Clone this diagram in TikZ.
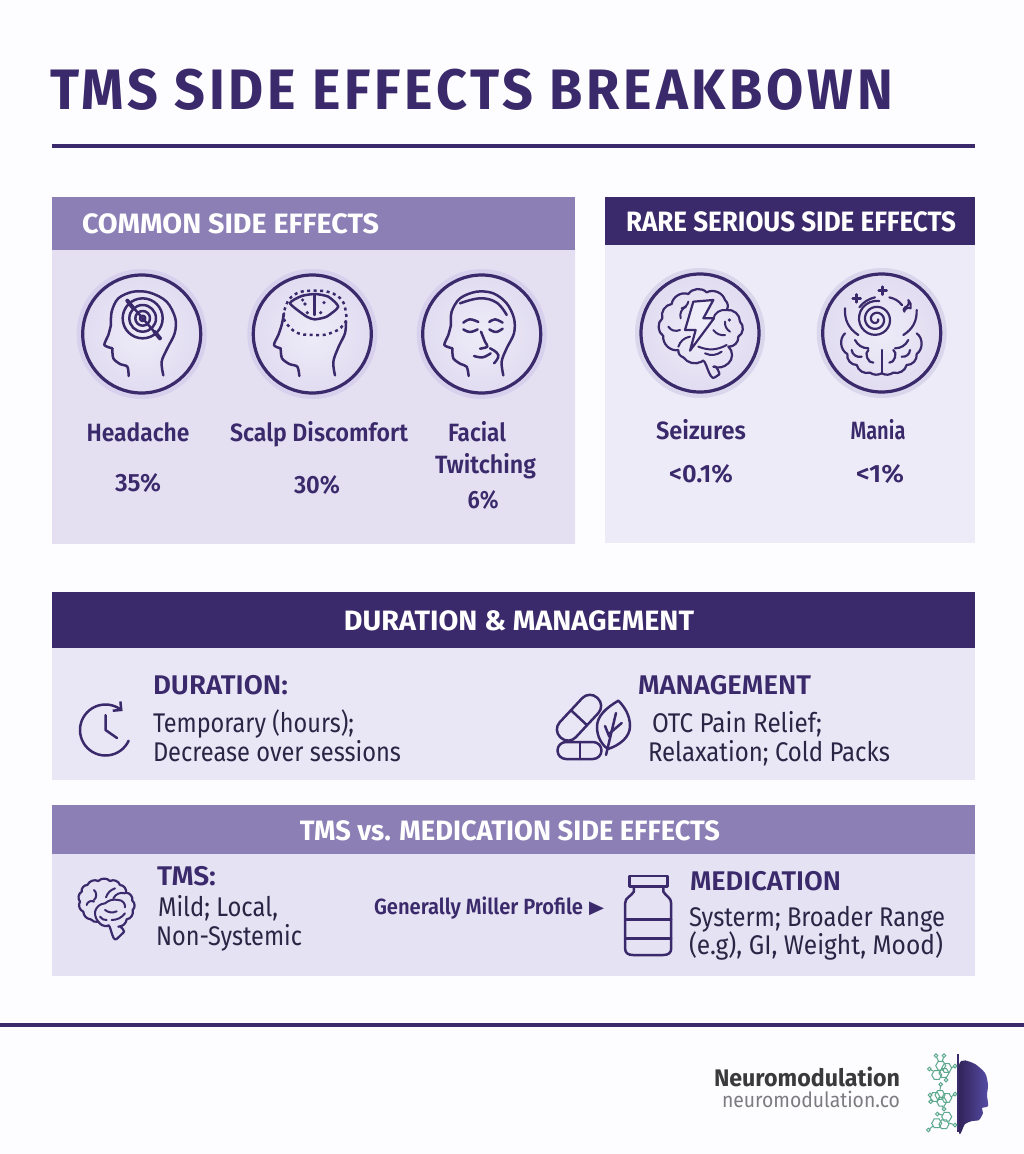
\documentclass[tikz,border=0pt]{standalone}
\usepackage{fontspec}
\usetikzlibrary{arrows.meta}
\setmainfont{Fira Sans}
\newfontfamily\symf{DejaVu Sans}
\newfontfamily\semi{Fira Sans SemiBold}
\newfontfamily\titlef[LetterSpace=7]{Fira Sans}
\definecolor{pagec}{HTML}{FDFCFE}
\definecolor{ink}{HTML}{3B2A6B}
\definecolor{mid}{HTML}{8B7FB6}
\definecolor{panA}{HTML}{E4E0F2}
\definecolor{panAm}{HTML}{E9E6F5}
\definecolor{panB}{HTML}{EDEBF7}
\definecolor{panC}{HTML}{E9E6F5}
\definecolor{panD}{HTML}{E5E2F3}
\definecolor{haloA}{HTML}{D7D1ED}
\definecolor{haloB}{HTML}{DAD7ED}
\definecolor{discIn}{HTML}{EEECF8}
\definecolor{discOut}{HTML}{E1DCF1}
\definecolor{bodyc}{HTML}{2B2545}
\definecolor{molc}{HTML}{5BA88C}
\definecolor{footd}{HTML}{3A3A3C}
\definecolor{footl}{HTML}{7C7C80}
\newcommand\fw[3]{\resizebox{#1pt}{\height}{\fontsize{#2}{#2}\selectfont #3}}
\tikzset{
 txt/.style={inner sep=0pt,outer sep=0pt,anchor=base west},
 ctxt/.style={inner sep=0pt,outer sep=0pt,anchor=base},
 lab/.style={ctxt,text=ink,font=\semi},
 hd/.style={txt,text=ink,font=\semi},
 bod/.style={txt,text=bodyc},
 whead/.style={ctxt,text=white,font=\bfseries},
 ic/.style={draw=ink,line width=2.5pt,line cap=round,line join=round,fill=none},
 icthin/.style={draw=ink,line width=2pt,line cap=round,line join=round,fill=none},
 ringc/.style={draw=ink,line width=3.2pt},
 mol/.style={draw=molc,line width=1pt,fill=none},
}
\newcommand\badge[3]{\fill[fill=#3] (#1,#2) circle[radius=65]; \shade[inner color=discIn,outer color=discOut] (#1,#2) circle[radius=59]; \draw[ringc] (#1,#2) circle[radius=59];}
\newcommand\hexa[3]{\draw[mol] (#1,#2) +(0:#3) -- +(60:#3) -- +(120:#3) -- +(180:#3) -- +(240:#3) -- +(300:#3) -- cycle;}
\newcommand\atom[2]{\draw[mol,fill=white] (#1,#2) circle[radius=1.8];}
\begin{document}
\begin{tikzpicture}[x=1pt,y=-1pt]
\useasboundingbox (0,0) rectangle (1024,1154);
\fill[pagec] (0,0) rectangle (1024,1154);
% title
\node[txt,text=ink,font=\bfseries] (title) at (50,109) {\resizebox{843pt}{\height}{\fontsize{57}{57}\titlef\bfseries TMS SIDE EFFECTS BREAKBOWN}};
\draw[ink,line width=3.2pt] (52,146) -- (975,146);
% panels
\shade[left color=panA,middle color=panAm,right color=panA] (52,250) rectangle (575,543);
\fill[mid] (52,197) rectangle (575,250);
\fill[panB] (605,245) rectangle (975,543);
\fill[ink] (605,197) rectangle (975,245);
\fill[panC] (52,648) rectangle (975,780);
\fill[ink] (52,592) rectangle (975,648);
\fill[panD] (52,854) rectangle (975,976);
\fill[mid] (52,805) rectangle (975,854);
% headers
\node[txt,text=white,font=\bfseries] (h1) at (82,233) {\fw{297}{28}{COMMON SIDE EFFECTS}};
\node[txt,text=white,font=\bfseries] (h2) at (626,231) {\fw{330}{28}{RARE SERIOUS SIDE EFFECTS}};
\node[whead] (h3) at (519,630) {\fw{350}{28}{DURATION \& MANAGEMENT}};
\node[whead] (h4) at (510,840) {\fw{420}{28}{TMS vs. MEDICATION SIDE EFFECTS}};
% badges
\badge{141.7}{334}{haloA}\badge{312.3}{334}{haloA}\badge{481.7}{334}{haloA}\badge{700}{333}{haloB}\badge{881.7}{333}{haloB}
% icon 1
\begin{scope}[x=.33333pt,y=-.33333pt,shift={(50pt,-250pt)}]
\draw[ic] plot[smooth,tension=.55] coordinates {(340,376)(335,335)(352,295)(374,250)(376,205)(350,155)(300,128)(250,125)(205,145)(185,185)(183,225)};
\draw[ic] plot[smooth,tension=.4] coordinates {(183,225)(175,255)(163,285)(187,295)};
\draw[ic] plot[smooth,tension=.5] coordinates {(187,295)(190,325)(210,342)(232,350)(236,378)};
\draw[ic] (278,205) ellipse[x radius=60,y radius=60];
\draw[ic] (278,205) ellipse[x radius=40,y radius=40];
\draw[ic] (278,205) ellipse[x radius=22,y radius=22];
\draw[ic] (278,205) ellipse[x radius=8,y radius=8];
\draw[ic] (232,152) -- (330,265);
\draw[ic,line width=4pt] (232,152) -- (248,172);
\draw[ic,line width=4pt] (314,246) -- (330,265);
\end{scope}
% icon 2
\begin{scope}[x=.33333pt,y=-.33333pt,shift={(50pt,-250pt)}]
\draw[ic] plot[smooth,tension=.55] coordinates {(855,376)(850,335)(866,290)(885,250)(888,215)};
\draw[ic] plot[smooth,tension=.5] coordinates {(702,190)(695,225)(685,255)(672,285)(692,295)};
\draw[ic] plot[smooth,tension=.5] coordinates {(692,295)(696,325)(718,342)(742,350)(748,378)};
\draw[ic,line cap=butt,dash pattern=on 3pt off 3.5pt] plot[smooth,tension=.8] coordinates {(700,200)(725,140)(795,122)(865,140)(888,190)(880,225)(840,250)(790,255)(735,245)(700,205)};
\draw[ic] plot[smooth cycle,tension=.35] coordinates {(720,160)(755,138)(795,132)(835,140)(865,170)(830,200)(795,208)(770,200)};
\draw[ic] (793,135) -- (793,195);
\foreach \a/\b in {758/150,765/162,822/158,772/188,812/188}{\fill[ink] (\a,\b) circle[radius=1.8pt];}
\end{scope}
% icon 3
\begin{scope}[x=.33333pt,y=-.33333pt,shift={(50pt,-250pt)}]
\draw[ic] plot[smooth,tension=.55] coordinates {(1360,376)(1355,335)(1370,295)(1392,250)(1392,205)(1370,160)(1330,130)(1280,125)(1230,145)(1205,185)(1203,225)};
\draw[ic] plot[smooth,tension=.4] coordinates {(1203,225)(1195,255)(1183,285)(1207,295)};
\draw[ic] plot[smooth,tension=.5] coordinates {(1207,295)(1210,325)(1232,342)(1250,350)(1256,378)};
\draw[ic] plot[smooth,tension=.7] coordinates {(1230,160)(1290,145)(1340,158)(1370,195)};
\draw[ic] plot[smooth,tension=.7] coordinates {(1240,218)(1260,208)(1285,216)};
\draw[ic] plot[smooth,tension=.7] coordinates {(1240,238)(1260,246)(1283,238)};
\draw[ic] plot[smooth,tension=.7] coordinates {(1318,216)(1335,208)(1358,218)};
\draw[ic] plot[smooth,tension=.7] coordinates {(1318,238)(1338,246)(1358,236)};
\draw[ic] plot[smooth,tension=.6] coordinates {(1293,245)(1305,275)(1312,290)(1290,296)};
\draw[ic] plot[smooth,tension=.7] coordinates {(1272,318)(1298,322)(1322,310)};
\draw[ic] plot[smooth,tension=.8] coordinates {(1320,295)(1345,315)(1332,340)};
\end{scope}
% icon 4 brain + bolt
\begin{scope}[x=.33333pt,y=-.33333pt,shift={(610pt,-250pt)}]
\draw[ic,line width=2.2pt] (205,300) to[bend left=55] (160,258) to[bend left=55] (157,205) to[bend left=50] (185,162) to[bend left=50] (235,132) to[bend left=50] (290,127) to[bend left=50] (345,150) to[bend left=40] (350,180) to[bend left=50] (390,215) to[bend left=55] (385,260) to[bend left=50] (355,290) to[bend left=50] (355,340) to[bend left=30] (310,350) to[out=70,in=0] (325,375) to (315,382) to[out=220,in=60] (275,335) to[bend left=40] (220,322) to[bend left=40] (205,300);
\draw[icthin] (215,175) to[bend right=30] (235,155);
\draw[icthin] (212,205) to[bend left=40] (228,170);
\draw[icthin] (175,230) to[bend right=40] (210,240);
\draw[icthin] (205,290) to[bend left=30] (240,260);
\draw[icthin] (310,205) to[bend left=40] (348,180);
\draw[icthin] (310,240) to[bend right=30] (345,255);
\draw[icthin] (265,290) to[bend right=25] (350,285);
\draw[icthin] (285,310) to[bend right=30] (335,305);
\draw[icthin] (345,215) to[bend right=30] (360,245);
\fill[ink] (358,210) circle[radius=1.8pt];
\draw[ic,line width=2.2pt,fill=discIn] (250,155) -- (310,150) -- (280,205) -- (312,205) -- (240,302) -- (257,240) -- (225,240) -- cycle;
\end{scope}
% icon 5 mania
\begin{scope}[x=.33333pt,y=-.33333pt,shift={(610pt,-250pt)}]
\draw[ic,line width=2.2pt] plot[smooth,tension=.7,domain=0:1000,samples=70] ({798+(6+.05*\x)*cos(\x)},{208+(6+.05*\x)*sin(\x)});
\draw[icthin,line width=2.2pt] (705,175) to[bend right=30] (745,255);
\draw[icthin,line width=2.2pt] (920,180) to[bend left=30] (880,255);
\draw[icthin,line width=2.2pt] (748,172) to[bend left=18] (795,142);
\draw[icthin,line width=2.2pt] (838,142) to[bend left=18] (876,165);
\draw[ic] (728,145) -- (752,145) (740,133) -- (740,157);
\draw[ic] (806,122) -- (830,122) (818,110) -- (818,134);
\draw[icthin] (883,185) to[bend left=60] (902,175) to[bend right=30] (895,150) to[bend left=50] (885,172) to[bend right=60] (883,185);
\draw[ic,line width=2.2pt] (815,370) to[bend left=30] (780,368) to[bend left=45] (740,345) to[bend left=50] (712,312) to[bend left=55] (705,250);
\draw[ic,line width=2.2pt] (815,370) to[bend right=30] (850,368) to[bend right=45] (890,345) to[bend right=50] (920,312) to[bend right=55] (920,250);
\draw[ic,line width=2.2pt] (815,300) -- (815,368);
\draw[icthin,line width=2.2pt] (775,300) to[bend right=80] (790,338);
\draw[icthin,line width=2.2pt] (850,300) to[bend left=80] (838,338);
\draw[icthin,line width=2.2pt] (735,270) to[bend right=30] (775,295);
\draw[icthin,line width=2.2pt] (895,270) to[bend left=30] (855,295);
\draw[icthin,line width=2.2pt] (725,300) to[bend right=50] (755,320);
\draw[icthin,line width=2.2pt] (900,300) to[bend left=50] (875,320);
\end{scope}
% labels
\node[lab] (l1) at (138,441) {\fw{103}{25}{Headache}};
\node[lab] (p1) at (138,491) {\fw{46}{25}{35\%}};
\node[lab] (l2) at (319,441) {\fw{178}{25}{Scalp Discomfort}};
\node[lab] (p2) at (317,493) {\fw{46}{25}{30\%}};
\node[lab] (l3a) at (477,441) {\fw{58}{25}{Facial}};
\node[lab] (l3b) at (485.5,473) {\fw{101}{25}{Twitching}};
\node[lab] (p3) at (483,508) {\fw{31}{25}{6\%}};
\node[lab] (l4) at (701,439) {\fw{90}{25}{Seizures}};
\node[lab] (p4) at (701,482) {\fw{64}{25}{<0.1\%}};
\node[lab] (l5) at (878,439) {\fw{55}{25}{Mania}};
\node[lab] (p5) at (880,482) {\fw{48}{25}{<1\%}};
% duration
\node[hd] (d1) at (153,694) {\fw{135}{27}{DURATION:}};
\node[bod] (d2) at (153,732) {\fw{201}{27}{Temporary (hours);}};
\node[bod] (d3) at (153,761) {\fw{248}{27}{Decrease over sessions}};
\node[hd] (m1) at (638,694) {\fw{173}{27}{MANAGEMENT}};
\node[bod] (m2) at (652,732) {\fw{170}{27}{OTC Pain Relief;}};
\node[bod] (m3) at (648,761) {\fw{242}{27}{Relaxation; Cold Packs}};
% clock
\draw[ic,-{Straight Barb[length=6pt,width=12pt]}] plot[smooth,domain=25:312,samples=40] ({105.5+25.5*cos(\x)},{730+25.5*sin(\x)});
\draw[ic] (105.5,715) -- (105.5,730) -- (117,738);
% pills and leaf
\begin{scope}[shift={(579,717.7)},rotate=47]
\draw[ic,rounded corners=10.5pt] (-27,-11) rectangle (27,11);
\draw[ic] (0,-11) -- (0,11);
\end{scope}
\draw[ic,rounded corners=8.5pt] (557.5,742) rectangle (601.5,759);
\draw[ic] (580,742) -- (580,759);
\draw[ic] (618.3,700.7) .. controls (606,708) and (597,716) .. (597,727) .. controls (597,737) and (602,745) .. (608,749) .. controls (620,745) and (630,737) .. (630,726) .. controls (630,715) and (624,706) .. (618.3,700.7) -- cycle;
\draw[ic] (606,755) -- (616,713);
\draw[ic] (610,733) -- (621.7,723);
\draw[ic] (609.3,736.7) -- (605,726);
% TMS row
\node[hd] (t1) at (157,885) {\fw{59}{27}{TMS:}};
\node[bod] (t2) at (158,916) {\fw{120}{27}{Mild; Local,}};
\node[bod] (t3) at (156,945) {\fw{146}{27}{Non-Systemic}};
\node[txt,text=ink,font=\semi] (gen) at (374,914) {\fw{209}{22}{Generally Miller Profile}};
\node[txt,text=ink] (tri) at (589,913) {\fw{15}{18}{\symf ▶}};
\node[hd] (md1) at (690,890) {\fw{151}{27}{MEDICATION}};
\node[bod] (md2) at (689,926) {\fw{256}{27}{Systerm; Broader Range}};
\node[bod] (md3) at (689,954) {\fw{254}{27}{(e.g), GI, Weight, Mood)}};
% small brain
\begin{scope}[x=.33333pt,y=-.33333pt,shift={(70pt,-870pt)}]
\draw[ic,line width=2.2pt] (62,148) to[bend left=40] (40,125) to[bend left=50] (30,95) to[bend left=50] (35,65) to[bend left=50] (52,45) to[bend left=45] (85,33) to[bend left=45] (120,33) to[bend left=50] (150,45) to[bend left=50] (168,68) to[bend left=50] (187,92) to[bend left=50] (188,120) to[bend left=50] (170,148) to[bend left=40] (145,170) to[out=60,in=0] (160,188) to (140,207) to[out=220,in=60] (112,168) to[bend left=30] (85,155) to[bend left=30] (62,148);
\draw[icthin] (75,125) to[bend left=35] (105,100) to[bend left=25] (145,90) to[bend left=50] (165,112);
\draw[icthin] (75,125) to[bend right=20] (85,155);
\draw[icthin] (50,105) to[bend left=60] (72,95);
\draw[icthin] (72,90) to[bend right=50] (72,60);
\draw[icthin] (108,82) to[bend left=25] (135,55);
\draw[icthin] (130,85) to[bend left=40] (165,70);
\draw[icthin] (105,120) to[bend right=30] (140,124);
\draw[icthin] (125,150) to[bend right=25] (165,130);
\draw[icthin] (90,140) to[bend right=30] (110,150);
\end{scope}
% bottle
\begin{scope}[x=.41494pt,y=-.33333pt,shift={(50pt,-860pt)}]
\draw[ic] (1396,48) rectangle (1488,80);
\draw[ic] (1407,80) -- (1407,95) .. controls (1400,110) and (1386,112) .. (1386,130) -- (1386,265) .. controls (1386,278) and (1392,285) .. (1405,285) -- (1478,285) .. controls (1491,285) and (1497,278) .. (1497,265) -- (1497,130) .. controls (1497,112) and (1485,110) .. (1478,95) -- (1478,80);
\draw[ic] (1386,178) -- (1497,178);
\draw[ic] (1386,235) -- (1497,235);
\end{scope}
% bottom rule
\draw[ink,line width=3.2pt] (0,1025) -- (1024,1025);
% footer
\node[txt,text=footd,font=\bfseries] (f1) at (714,1086) {\fw{186}{24}{Neuromodulation}};
\node[txt,text=footl] (f2) at (722,1107) {\fw{178}{21}{neuromodulation.co}};
% logo
\shade[left color=ink!80!black,right color=ink!75!white!80!blue] plot[smooth cycle,tension=.45] coordinates {(959,1065)(973,1063)(985,1073)(988,1085)(987,1095)(988,1106)(982,1108)(983,1113)(979,1120)(972,1121)(965,1124)(959,1132)};
\draw[ink,line width=2pt] (958,1054) -- (958,1132);
\hexa{940.7}{1065.7}{5}\hexa{946.7}{1068}{5}\hexa{936.7}{1075}{5}\hexa{944}{1073}{5}
\hexa{940}{1095}{5}\hexa{946.7}{1098}{5}\hexa{935}{1097}{5}\hexa{941.7}{1101.7}{5}
\hexa{946.7}{1116.7}{5}\hexa{936.7}{1123.3}{5}\hexa{944}{1124.3}{5}
\draw[mol] (936,1056) -- (939,1062) (944,1056) -- (942,1062) (955,1066) -- (951,1068) (929.3,1069) -- (933,1071) (946,1080) -- (945,1077) (940.7,1084.3) -- (940,1090) (955,1094) -- (951,1097) (930,1095) -- (932,1096) (930.7,1101.7) -- (933,1100) (944,1109) -- (942,1106) (937.3,1114) -- (943,1115) (955,1125) -- (949,1123) (928.3,1130) -- (933,1126);
\atom{936}{1055.7}\atom{944}{1055.7}\atom{955}{1066}\atom{929.3}{1069}\atom{946}{1080}\atom{940.7}{1084.3}\atom{955}{1094}\atom{930}{1095}\atom{930.7}{1101.7}\atom{944}{1109}\atom{937.3}{1114}\atom{955}{1125}\atom{928.3}{1130}
\end{tikzpicture}
\end{document}
